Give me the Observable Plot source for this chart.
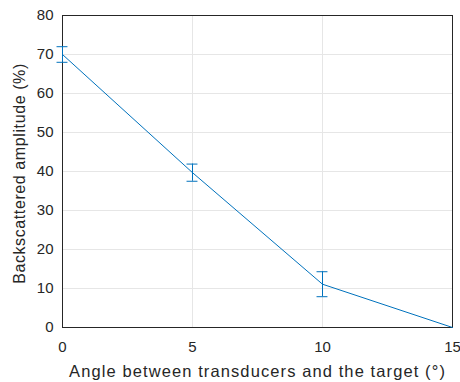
<!DOCTYPE html>
<html>
<head>
<meta charset="utf-8">
<script src="https://cdn.jsdelivr.net/npm/d3@7"></script>
<script src="https://cdn.jsdelivr.net/npm/@observablehq/plot@0.6"></script>
<style>
  html, body { margin: 0; padding: 0; background: #fff; }
  svg { display: block; }
  .xlab text { letter-spacing: 1.1px; }
  .ylab text { letter-spacing: 0.6px; }
</style>
</head>
<body>
<div id="chart"></div>
<script>
const angles = [0, 5, 10, 15];
const amplitude = [70, 39.7, 11.1, 0];
const errors = [2, 2.2, 3.2, 0];
const xTicks = [0, 5, 10, 15];
const yTicks = [0, 10, 20, 30, 40, 50, 60, 70, 80];
const xLabel = "Angle between transducers and the target (°)";
const yLabel = "Backscattered amplitude (%)";

const data = angles.map((a, i) => ({x: a, y: amplitude[i], e: errors[i]}));
const errData = data.filter(d => d.e > 0);
const blue = "#0072BD";
const capHalf = 0.21;

const chart = Plot.plot({
  width: 460,
  height: 382,
  marginLeft: 62,
  marginRight: 8,
  marginTop: 15,
  marginBottom: 55,
  style: {fontFamily: "'Liberation Sans', Arial, sans-serif", fontSize: "15px", color: "#262626", background: "#fff"},
  x: {domain: [0, 15]},
  y: {domain: [0, 80]},
  marks: [
    Plot.gridX(xTicks, {stroke: "#e6e6e6", strokeOpacity: 1}),
    Plot.gridY(yTicks, {stroke: "#e6e6e6", strokeOpacity: 1}),
    Plot.axisX(xTicks, {tickSize: 0, tickPadding: 14, fontSize: 15, fill: "#262626", label: null}),
    Plot.axisY(yTicks, {tickSize: 0, tickPadding: 9, fontSize: 15, fill: "#262626", label: null}),
    Plot.text([xLabel], {frameAnchor: "bottom", dy: 44, text: d => d, fontSize: 16.5, fill: "#262626", lineAnchor: "middle", className: "xlab"}),
    Plot.text([yLabel], {frameAnchor: "left", dx: -43, dy: 2, rotate: -90, text: d => d, fontSize: 16, fill: "#262626", textAnchor: "middle", lineAnchor: "middle", className: "ylab"}),
    Plot.frame({stroke: "#262626", strokeWidth: 1}),
    Plot.line(data, {x: "x", y: "y", stroke: blue, strokeWidth: 1}),
    Plot.ruleX(errData, {x: "x", y1: d => d.y - d.e, y2: d => d.y + d.e, stroke: blue, strokeWidth: 1}),
    Plot.ruleY(errData, {y: d => d.y - d.e, x1: d => d.x - capHalf, x2: d => d.x + capHalf, stroke: blue, strokeWidth: 1}),
    Plot.ruleY(errData, {y: d => d.y + d.e, x1: d => d.x - capHalf, x2: d => d.x + capHalf, stroke: blue, strokeWidth: 1})
  ]
});
document.getElementById("chart").appendChild(chart);
</script>
</body>
</html>
